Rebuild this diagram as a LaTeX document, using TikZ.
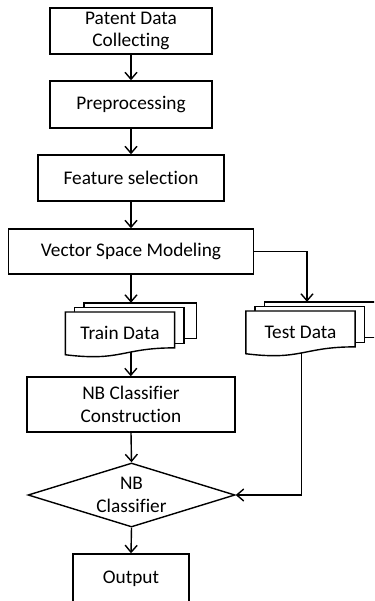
\documentclass[tikz,border=0pt]{standalone}
\usepackage{fontspec}
\setmainfont{Carlito}[Ligatures={NoCommon}]
\usetikzlibrary{arrows.meta,shapes.geometric,calc}

\tikzset{
  lw/.style={line width=1.4pt},
  box/.style={draw, lw, rectangle, inner sep=0pt, align=center},
  decision/.style={draw, lw, diamond, aspect=3.2, inner sep=0pt, align=center},
  arr/.style={lw, -{Straight Barb[length=7pt,width=12pt]}},
  docline/.style={lw, fill=white, line join=miter},
}
% multi-document symbol: name, centre, text, x and y (percent) of the bottom exit point
\newcommand\multidoc[5]{%
  \node[minimum width=131pt, minimum height=54pt, inner sep=0pt] (#1) at #2 {};
  \begin{scope}[shift={(#1.north west)}, x=1.31pt, y=-0.54pt]
    \draw[docline] (14.31,8.40) -- (14.31,0) -- (100,0) -- (100,66.63) -- (90.58,66.63);
    \draw[docline] (7.09,17.01) -- (7.09,8.40) -- (90.58,8.40) -- (90.58,75.24) -- (83.44,75.24);
    \draw[docline] (0,17.01) -- (83.44,17.01) -- (83.44,83.44)
      .. controls (43.05,83.44) and (43.05,108.99) .. (0,96.21) -- cycle;
    \node[inner sep=0pt] (#1-t) at (41.72,56) {#3};
    \coordinate (#1-b) at (#4,#5);
  \end{scope}
}

\begin{document}
\begin{tikzpicture}[x=1pt, y=-1pt, font=\fontsize{19.3}{22.5}\selectfont]
  \useasboundingbox (0,0) rectangle (374,601);
  \clip (0,0) rectangle (374,601);

  \node[box, minimum width=162pt, minimum height=46pt] (n1) at (131,31) {Patent Data\\Collecting};
  \node[box, minimum width=162pt, minimum height=47pt] (n2) at (131,104.5) {Preprocessing};
  \node[box, minimum width=186pt, minimum height=46pt] (n3) at (131,178) {Feature selection};
  \node[box, minimum width=245pt, minimum height=45pt] (n4) at (131,251.5) {Vector Space Modeling};

  \multidoc{train}{(131,330)}{Train Data}{50}{91.2}
  \multidoc{test}{(311.5,329)}{Test Data}{42.7}{94.6}

  \node[box, minimum width=208pt, minimum height=55pt] (n6) at (131,404.5) {NB Classifier\\Construction};
  \node[decision, minimum width=207pt, minimum height=64pt] (dia) at (131.5,495) {NB\\Classifier};
  \node[box, minimum width=116pt, minimum height=50pt] (out) at (131,579) {Output};

  \draw[arr] (n1.south) -- (n2.north);
  \draw[arr] (n2.south) -- (n3.north);
  \draw[arr] (n3.south) -- (n4.north);
  \draw[arr] (n4.south) -- (train.north);
  \draw[arr] (n4.east) -| ($(test.north)+(-4.5,0)$);
  \draw[arr] (train-b) -- (train-b |- n6.north);
  \draw[arr] (n6.south) -- (dia.north);
  \draw[arr] (test-b) |- (dia.east);
  \draw[arr] (dia.south) -- (out.north);
\end{tikzpicture}
\end{document}
